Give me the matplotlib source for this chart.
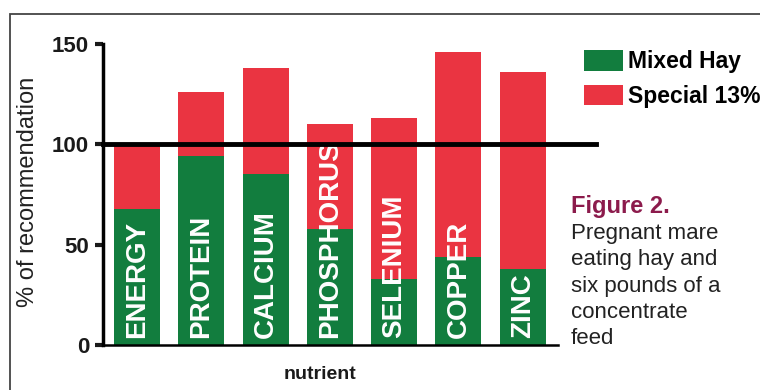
import numpy as np
import matplotlib
matplotlib.use('Agg')
import matplotlib.pyplot as plt
from matplotlib.patches import Rectangle

plt.rcParams['font.family'] = ['Liberation Sans', 'DejaVu Sans']

# values (% of recommendation)
nutrients = ['ENERGY', 'PROTEIN', 'CALCIUM', 'PHOSPHORUS', 'SELENIUM', 'COPPER', 'ZINC']
mixed_hay = [68, 94, 85, 58, 33, 44, 38]
special_13 = [31, 32, 53, 52, 80, 102, 98]   # added on top of the hay
yticks = [0, 50, 100, 150]

green = '#127d3e'
red = '#ea3441'

fig = plt.figure(figsize=(7.6, 3.9), dpi=100)
ax = fig.add_axes([103/760, 1-345/390, 455/760, 301/390])

x = np.arange(len(nutrients))
ax.bar(x, mixed_hay, width=0.715, color=green, label='Mixed Hay', zorder=2)
ax.bar(x, special_13, bottom=mixed_hay, width=0.715, color=red, label='Special 13%', zorder=2)

for xi, name in zip(x, nutrients):
    ax.text(xi, 3.5, name, rotation=90, ha='center', va='bottom', color='white',
            fontsize=20, fontweight='bold', zorder=3)

# the 100% line runs past the plot
ax.plot([-0.53, 7.14], [100, 100], color='black', lw=3.5, clip_on=False, zorder=4)

ax.set_xlim(-0.53, 6.55)
ax.set_ylim(0, 150)
ax.set_xticks([])
ax.set_yticks(yticks)
ax.set_yticklabels([str(t) for t in yticks], fontsize=16, fontweight='bold')
ax.tick_params(axis='y', length=6, width=3, pad=4, colors='#1a1a1a')
ax.spines['top'].set_visible(False)
ax.spines['right'].set_visible(False)
ax.spines['left'].set_linewidth(2.5)
ax.spines['bottom'].set_linewidth(1.8)

ax.set_xlabel('nutrient', fontsize=14, fontweight='bold', color='#1a1a1a')
ax.xaxis.set_label_coords(0.477, -0.07)
ax.set_ylabel('% of recommendation', fontsize=17, color='#222222')
ax.yaxis.set_label_coords(-0.140, 0.51)

ax.legend(loc='upper left', bbox_to_anchor=(584/760, 1-50/390), bbox_transform=fig.transFigure,
          frameon=False, prop={'size': 16.5, 'weight': 'bold'}, handlelength=1.7,
          handleheight=1.0, handletextpad=0.2, labelspacing=0.5, borderpad=0,
          borderaxespad=0)

fig.text(571/760, 1-213/390, 'Figure 2.', fontsize=17, fontweight='bold', color='#8c1b4c')
fig.text(571/760, 1-223/390, 'Pregnant mare\neating hay and\nsix pounds of a\nconcentrate\nfeed',
         fontsize=16, color='#222222', va='top', linespacing=1.33)

# thin frame around the figure
fig.add_artist(Rectangle((10/760, -0.05), 1.0, 1-14/390+0.05, transform=fig.transFigure,
                         fill=False, edgecolor='#444444', lw=1.3))

fig.savefig('out.png', dpi=100)
